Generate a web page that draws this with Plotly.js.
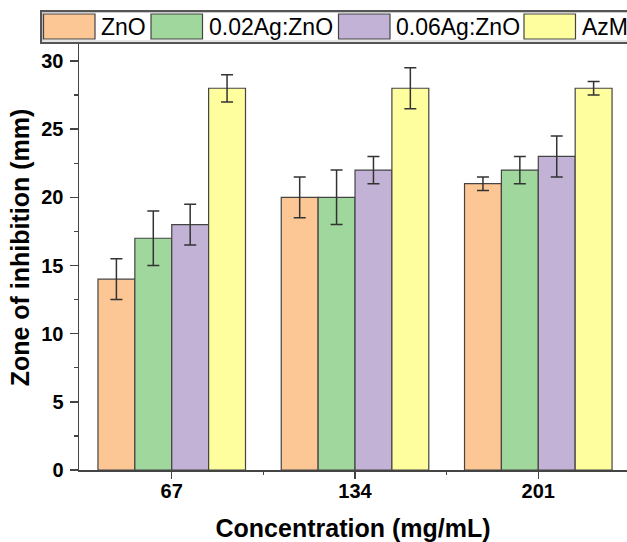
<!DOCTYPE html>
<html>
<head>
<meta charset="utf-8">
<script src="https://cdn.plot.ly/plotly-3.0.1.min.js"></script>
<style>
html,body{margin:0;padding:0;overflow:hidden;background:#fff;}
#chart{width:627px;height:542px;}
</style>
</head>
<body>
<div id="chart"></div>
<script>
// ---- data ----
var categories = ["67", "134", "201"];
var seriesNames = ["ZnO", "0.02Ag:ZnO", "0.06Ag:ZnO", "AzM"];
var znoValues   = [14, 20, 21];
var znoErrors   = [1.5, 1.5, 0.5];
var ag002Values = [17, 20, 22];
var ag002Errors = [2, 2, 1];
var ag006Values = [18, 22, 23];
var ag006Errors = [1.5, 1, 1.5];
var azmValues   = [28, 28, 28];
var azmErrors   = [1, 1.5, 0.5];
var seriesColors = ["#FDC695", "#9FD79C", "#C2B2D6", "#FFFE9E"];

var values = [znoValues, ag002Values, ag006Values, azmValues];
var errors = [znoErrors, ag002Errors, ag006Errors, azmErrors];
var xIdx = categories.map(function(c, i){ return i; });

var FONT = "Arial, 'Liberation Sans', sans-serif";

var traces = seriesNames.map(function(name, k){
  return {
    type: "bar",
    name: name,
    x: xIdx,
    y: values[k],
    marker: {color: seriesColors[k], line: {color: "#444", width: 1.2}},
    error_y: {type: "data", array: errors[k], visible: true, color: "#333", thickness: 1.5, width: 6},
    showlegend: false,
    hoverinfo: "y"
  };
});

// ---- layout geometry (pixels) ----
var W = 627, H = 542;
var mL = 79, mR = 0, mT = 25, mB = 72;
var plotW = W - mL - mR, plotH = H - mT - mB;
function px2x(p){ return (p - mL) / plotW; }
function py2y(p){ return (H - mB - p) / plotH; }

// custom legend (wide swatches, single row overflowing to the right)
var shapes = [];
var annotations = [];
shapes.push({type: "rect", xref: "paper", yref: "paper", layer: "above",
  x0: px2x(41), x1: px2x(660), y0: py2y(43), y1: py2y(11),
  fillcolor: "#ffffff", line: {color: "#555", width: 2}});
shapes.push({type: "rect", xref: "paper", yref: "paper", layer: "above",
  x0: px2x(42.5), x1: px2x(660), y0: py2y(41), y1: py2y(12.5),
  fillcolor: "rgba(0,0,0,0)", line: {color: "#bbb", width: 0.8}});
var swatchLeft = [43.5, 151, 338.5, 524];
var swW = 51.5, swTop = 14, swBot = 39;
seriesNames.forEach(function(name, k){
  var l = swatchLeft[k];
  shapes.push({type: "rect", xref: "paper", yref: "paper", layer: "above",
    x0: px2x(l), x1: px2x(l + swW), y0: py2y(swBot), y1: py2y(swTop),
    fillcolor: seriesColors[k], line: {color: "#444", width: 1.2}});
  annotations.push({xref: "paper", yref: "paper", x: px2x(l + swW + 4), y: py2y(27),
    xanchor: "left", yanchor: "middle", showarrow: false, text: name,
    font: {family: FONT, size: 23, color: "#000"}});
});

var layout = {
  width: W, height: H,
  margin: {l: mL, r: mR, t: mT, b: mB, pad: 0},
  paper_bgcolor: "#fff", plot_bgcolor: "#fff",
  barmode: "group", bargap: 0.195, bargroupgap: 0,
  showlegend: false,
  font: {family: FONT, color: "#000"},
  xaxis: {
    type: "linear", range: [-0.506, 2.484],
    tickmode: "array", tickvals: xIdx, ticktext: categories,
    showline: true, linecolor: "#444", linewidth: 1.5,
    ticks: "outside", ticklen: 7, tickwidth: 1.5, tickcolor: "#444",
    minor: {tickvals: [0.5, 1.5], ticks: "outside", ticklen: 3, tickwidth: 1.2, tickcolor: "#444"},
    showgrid: false, zeroline: false,
    ticklabelstandoff: -5,
    tickfont: {family: FONT, size: 20, weight: "bold", color: "#000"},
    title: {text: "Concentration (mg/mL)", standoff: 29,
      font: {family: FONT, size: 25, weight: "bold", color: "#000"}},
    automargin: false
  },
  yaxis: {
    range: [0, 32.64], tickmode: "linear", tick0: 0, dtick: 5,
    showline: true, linecolor: "#444", linewidth: 1.5,
    ticks: "outside", ticklen: 8, tickwidth: 1.5, tickcolor: "#444",
    minor: {dtick: 2.5, tick0: 0, ticks: "outside", ticklen: 4, tickwidth: 1.2, tickcolor: "#444"},
    showgrid: false, zeroline: false,
    ticklabelstandoff: 2,
    tickfont: {family: FONT, size: 20, weight: "bold", color: "#000"},
    title: {text: "Zone of inhibition (mm)", standoff: 4,
      font: {family: FONT, size: 25, weight: "bold", color: "#000"}},
    automargin: false
  },
  shapes: shapes,
  annotations: annotations
};

Plotly.newPlot("chart", traces, layout, {displayModeBar: false, staticPlot: true});
</script>
</body>
</html>
